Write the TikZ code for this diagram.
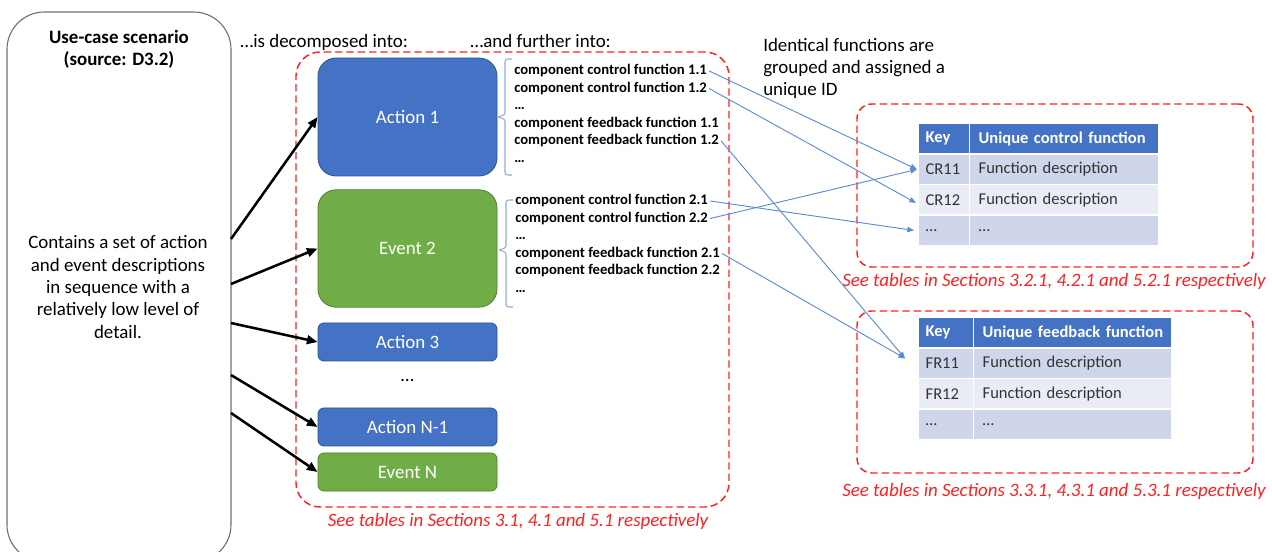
\documentclass[tikz,border=0pt]{standalone}
\usepackage{fontspec}
\setmainfont{Carlito}
\usetikzlibrary{arrows.meta,calc}

\definecolor{actblue}{HTML}{4472C4}
\definecolor{actblueedge}{HTML}{2F528F}
\definecolor{evgreen}{HTML}{70AD47}
\definecolor{evgreenedge}{HTML}{507E32}
\definecolor{rowdark}{HTML}{CFD5EA}
\definecolor{rowlight}{HTML}{E9EBF5}
\definecolor{framered}{HTML}{FF2020}
\definecolor{linkblue}{HTML}{5B8BD6}
\definecolor{braceblue}{HTML}{8FAADC}
\definecolor{boxgray}{HTML}{6E6E6E}
\definecolor{textgray}{HTML}{333333}

\tikzset{
  body/.style={font=\fontsize{14.2}{16.7}\selectfont, text=black},
  stepbox/.style={draw=actblueedge, line width=0.6pt, fill=actblue, text=white,
    minimum width=134.25pt, font=\fontsize{14.2}{16.7}\selectfont},
  eventbox/.style={stepbox, draw=evgreenedge, fill=evgreen},
  redframe/.style={draw=framered, line width=1.1pt, dash pattern=on 5.5pt off 3pt},
  redcap/.style={font=\fontsize{14.2}{16.7}\selectfont\itshape, text=framered, inner sep=0pt},
  fnline/.style={anchor=base west, inner sep=1.5pt, font=\fontsize{11}{13}\selectfont\bfseries},
  bigarrow/.style={-{Triangle[length=8pt,width=6.5pt]}, line width=1.9pt, black},
  link/.style={-{Triangle[length=5pt,width=4pt]}, line width=0.7pt, linkblue},
  bracket/.style={draw=braceblue, line width=0.8pt, rounded corners=2pt},
  cell/.style={anchor=north west, draw=white, line width=1pt, inner ysep=0pt,
    minimum height=22.875pt, align=left, font=\fontsize{12.4}{14}\selectfont, text=textgray},
  keycell/.style={cell, inner xsep=5.25pt, text width=#1},
  desccell/.style={cell, inner xsep=6.75pt, text width=#1},
  headcell/.style={fill=actblue, text=white, font=\fontsize{12.4}{14}\selectfont\bfseries},
}

\begin{document}
\begin{tikzpicture}[x=0.75pt, y=-0.75pt]
\useasboundingbox (0,0) rectangle (1272,552);

% scenario box on the left
\node[draw=boxgray, line width=0.8pt, rounded corners=28pt,
      minimum width=168pt, minimum height=412.5pt] (usecase) at (119,287) {};
\node[body, font=\fontsize{14.2}{16.7}\selectfont\bfseries, align=center] (title) at (119,49)
  {Use-case scenario\\(source: D3.2)};
\node[body, align=center] (descr) at (118,287)
  {Contains a set of action\\and event descriptions\\in sequence with a\\relatively low level of\\detail.};

% headings
\node[body, anchor=base west, inner sep=0pt] (hdecomp) at (240,48) {…is decomposed into:};
\node[body, anchor=base west, inner sep=0pt] (hfurther) at (470,48) {…and further into:};
\node[body, anchor=north west, align=left, inner sep=0pt] (hgroup) at (763,38)
  {Identical functions are\\grouped and assigned a\\unique ID};

% group of actions and events
\node[redframe, rounded corners=18pt, minimum width=324.75pt, minimum height=341.25pt]
  (group) at (512.5,279.5) {};
\node[redcap, anchor=base] (capgroup) at (518,527) {See tables in Sections 3.1, 4.1 and 5.1 respectively};

\node[stepbox, rounded corners=13.5pt, minimum height=88.5pt] (act1) at (407.5,117) {Action 1};
\node[eventbox, rounded corners=13.5pt, minimum height=88pt] (ev2) at (407.5,248.5) {Event 2};
\node[stepbox, rounded corners=4.5pt, minimum height=28.5pt] (act3) at (407.5,342) {Action 3};
\node[body, inner sep=0pt] (vdots) at (407.5,381) {…};
\node[stepbox, rounded corners=4.5pt, minimum height=28.5pt] (actn) at (407.5,427) {Action N-1};
\node[eventbox, rounded corners=4.5pt, minimum height=28.5pt] (evn) at (407.5,472) {Event N};

% arrows from the scenario to its steps
\coordinate (u1) at (231,239);
\coordinate (u2) at (231,284);
\coordinate (u3) at (231,323);
\coordinate (u4) at (231,375);
\coordinate (u5) at (231,413);
\draw[bigarrow] (u1) -- (act1.west);
\draw[bigarrow] (u2) -- (ev2.west);
\draw[bigarrow] (u3) -- (act3.west);
\draw[bigarrow] (u4) -- (actn.west);
\draw[bigarrow] (u5) -- (evn.west);

% brackets
\draw[bracket] (512,59) -- (505,59) -- (505,115) -- (497,117) -- (505,119) -- (505,175) -- (512,175);
\draw[bracket] (513,200) -- (506,200) -- (506,248) -- (498,250) -- (506,252) -- (506,307) -- (513,307);

% component functions
\node[fnline] (f11) at (512,75) {component control function 1.1};
\node[fnline] (f12) at (512,92.5) {component control function 1.2};
\node[fnline] (f1d) at (512,110) {…};
\node[fnline] (b11) at (512,127.5) {component feedback function 1.1};
\node[fnline] (b12) at (512,145) {component feedback function 1.2};
\node[fnline] (b1d) at (512,162.5) {…};

\node[fnline] (f21) at (513,205) {component control function 2.1};
\node[fnline] (f22) at (513,222.5) {component control function 2.2};
\node[fnline] (f2d) at (513,240) {…};
\node[fnline] (b21) at (513,257.5) {component feedback function 2.1};
\node[fnline] (b22) at (513,275) {component feedback function 2.2};
\node[fnline] (b2d) at (513,292.5) {…};

% control function table
\node[redframe, rounded corners=11pt, minimum width=297pt, minimum height=122.25pt]
  (frame1) at (1055,185.5) {};
\node[redcap, anchor=base east] (cap1) at (1266,287) {See tables in Sections 3.2.1, 4.2.1 and 5.2.1 respectively};

\node[keycell=27.75pt, headcell] (k1h) at (918,123) {Key};
\node[desccell=128.25pt, headcell] (d1h) at (969,123) {\mbox{Unique control function}};
\node[keycell=27.75pt, fill=rowdark] (cr11) at (918,153.5) {CR11};
\node[desccell=128.25pt, fill=rowdark] (d11) at (969,153.5) {Function description};
\node[keycell=27.75pt, fill=rowlight] (cr12) at (918,184) {CR12};
\node[desccell=128.25pt, fill=rowlight] (d12) at (969,184) {Function description};
\node[keycell=27.75pt, fill=rowdark] (crx) at (918,214.5) {…};
\node[desccell=128.25pt, fill=rowdark] (d1x) at (969,214.5) {…};

% feedback function table
\node[redframe, rounded corners=11pt, minimum width=297pt, minimum height=121.5pt]
  (frame2) at (1055,392) {};
\node[redcap, anchor=base east] (cap2) at (1266,496) {See tables in Sections 3.3.1, 4.3.1 and 5.3.1 respectively};

\node[keycell=30.75pt, headcell] (k2h) at (918,317) {Key};
\node[desccell=135pt, headcell] (d2h) at (973,317) {\mbox{Unique feedback function}};
\node[keycell=30.75pt, fill=rowdark] (fr11) at (918,347.5) {FR11};
\node[desccell=135pt, fill=rowdark] (d21) at (973,347.5) {Function description};
\node[keycell=30.75pt, fill=rowlight] (fr12) at (918,378) {FR12};
\node[desccell=135pt, fill=rowlight] (d22) at (973,378) {Function description};
\node[keycell=30.75pt, fill=rowdark] (frx) at (918,408.5) {…};
\node[desccell=135pt, fill=rowdark] (d2x) at (973,408.5) {…};

% links from component functions to unique IDs
\coordinate (fbend) at ($(fr11.west)+(-13,-5)$);
\draw[link] (f11.east) -- ($(cr11.west)+(-1,0)$);
\draw[link] (f12.east) -- ($(cr12.west)+(-2,3)$);
\draw[link] (b12.east) -- (fbend);
\draw[link] (f21.east) -- ($(crx.west)+(-4,0)$);
\draw[link] (f22.east) -- ($(cr11.west)+(-1,0)$);
\draw[link] (b21.east) -- (fbend);
\end{tikzpicture}
\end{document}
